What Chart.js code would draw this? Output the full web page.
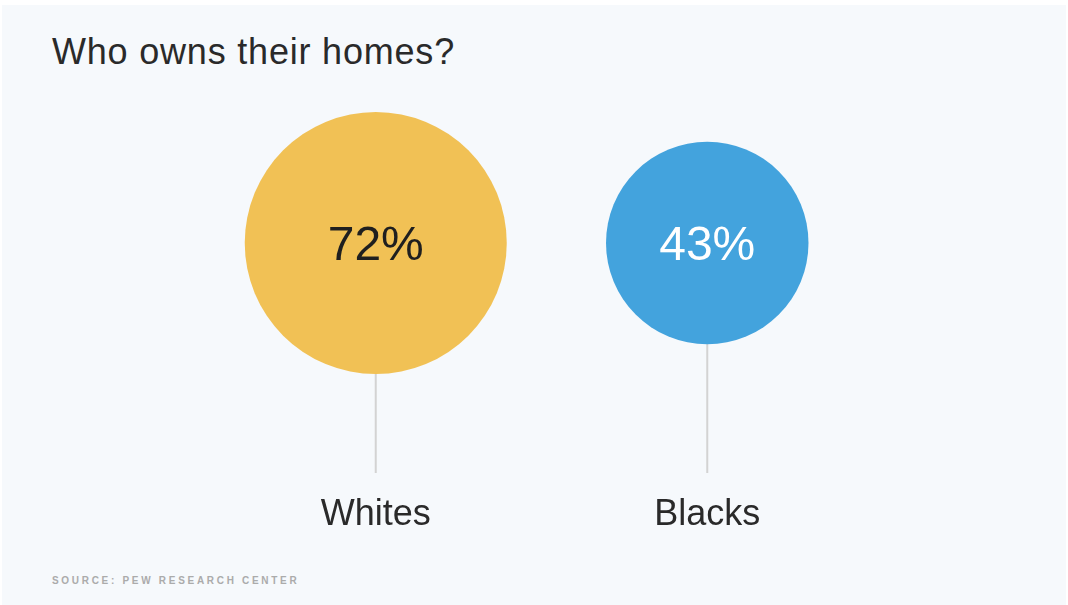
<!DOCTYPE html>
<html>
<head>
<meta charset="utf-8">
<script src="https://cdn.jsdelivr.net/npm/chart.js@4/dist/chart.umd.min.js"></script>
<style>
  html, body { margin: 0; padding: 0; background: #ffffff; }
  body { width: 1068px; height: 605px; position: relative; overflow: hidden; font-family: "Liberation Sans", Arial, sans-serif; }
  #bg { position: absolute; left: 2px; top: 5px; width: 1064px; height: 600px; background: #f6f9fc; }
  #title { position: absolute; left: 52px; top: 34px; font-size: 36px; line-height: 36px; letter-spacing: 0.8px; color: #2a2a2a; white-space: nowrap; }
  #source { position: absolute; left: 52px; top: 576px; font-size: 10px; line-height: 10px; letter-spacing: 2.7px; color: #ababab; white-space: nowrap; font-weight: bold; }
  #wrap { position: absolute; left: 0; top: 0; width: 1068px; height: 605px; }
</style>
</head>
<body>
<div id="bg"></div>
<div id="title">Who owns their homes?</div>
<div id="source">SOURCE: PEW RESEARCH CENTER</div>
<div id="wrap"><canvas id="c" width="1068" height="605"></canvas></div>
<script>
const categories = ["Whites", "Blacks"];
const values = [72, 43];
const valueLabels = ["72%", "43%"];
const colors = ["#f1c155", "#43a3dd"];
const labelColors = ["#1f1f1f", "#ffffff"];

const RADIUS_PER_SQRT = 15.44;
const STEM_END_OFFSET = 100;
const X_AXIS_HEIGHT = 160;

const bubbleData = categories.map((c, i) => ({ x: c, y: 0, r: Math.sqrt(values[i]) * RADIUS_PER_SQRT }));

const stemAndLabelPlugin = {
  id: 'stemAndLabel',
  beforeDatasetsDraw(chart) {
    const ctx = chart.ctx;
    const meta = chart.getDatasetMeta(0);
    const endY = chart.chartArea.bottom + STEM_END_OFFSET;
    ctx.save();
    ctx.strokeStyle = '#d3d3d3';
    ctx.lineWidth = 2;
    meta.data.forEach((el, i) => {
      const r = bubbleData[i].r;
      ctx.beginPath();
      ctx.moveTo(el.x, el.y + r - 2);
      ctx.lineTo(el.x, endY);
      ctx.stroke();
    });
    ctx.restore();
  },
  afterDatasetsDraw(chart) {
    const ctx = chart.ctx;
    const meta = chart.getDatasetMeta(0);
    ctx.save();
    ctx.font = '48px "Liberation Sans", Arial, sans-serif';
    ctx.textAlign = 'center';
    ctx.textBaseline = 'middle';
    meta.data.forEach((el, i) => {
      ctx.fillStyle = labelColors[i];
      ctx.fillText(valueLabels[i], el.x, el.y + 4);
    });
    ctx.restore();
  }
};

new Chart(document.getElementById('c'), {
  type: 'bubble',
  data: {
    labels: categories,
    datasets: [{
      data: bubbleData,
      backgroundColor: colors,
      borderWidth: 0,
      hoverBorderWidth: 0,
      clip: false
    }]
  },
  options: {
    responsive: false,
    animation: false,
    events: [],
    layout: { autoPadding: false, padding: { left: 210, right: 195, top: 113, bottom: 72 } },
    plugins: { legend: { display: false }, tooltip: { enabled: false }, title: { display: false } },
    scales: {
      x: {
        type: 'category',
        labels: categories,
        offset: true,
        grid: { display: false, drawTicks: false, tickLength: 0 },
        border: { display: false },
        afterFit: (scale) => { scale.height = X_AXIS_HEIGHT; },
        ticks: { padding: 124, minRotation: 0, maxRotation: 0, autoSkip: false, color: '#2a2a2a', font: { family: '"Liberation Sans", Arial, sans-serif', size: 36, lineHeight: 1 } }
      },
      y: {
        type: 'linear',
        display: false,
        min: -1,
        max: 1
      }
    }
  },
  plugins: [stemAndLabelPlugin]
});
</script>
</body>
</html>
